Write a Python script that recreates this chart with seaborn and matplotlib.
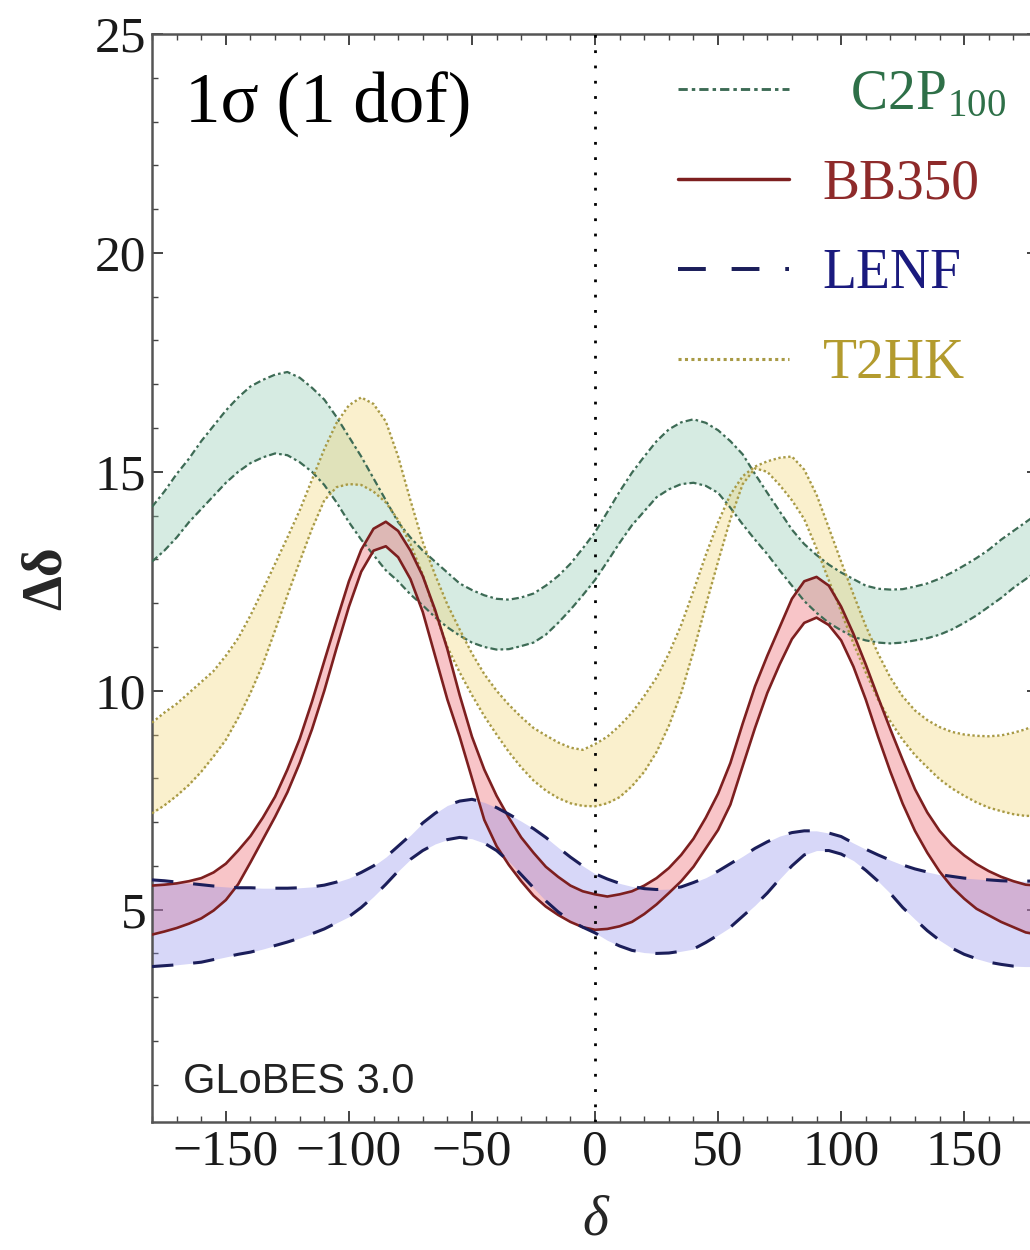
import numpy as np
import pandas as pd
import seaborn as sns
import matplotlib
matplotlib.use("Agg")
import matplotlib.pyplot as plt
from matplotlib.lines import Line2D
from matplotlib.ticker import MultipleLocator

# ---------------- data ----------------
delta = list(range(-180, 185, 5))

c2p_hi = [14.2, 14.55, 14.95, 15.3, 15.7, 16.05, 16.4, 16.7, 16.95, 17.1,
          17.22, 17.28, 17.15, 16.92, 16.65, 16.25, 15.8, 15.35, 14.85, 14.35,
          13.85, 13.5, 13.2, 12.95, 12.7, 12.45, 12.3, 12.18, 12.1, 12.08,
          12.13, 12.22, 12.4, 12.62, 12.9, 13.25, 13.62, 14.08, 14.55, 14.98,
          15.35, 15.7, 15.97, 16.13, 16.2, 16.12, 15.95, 15.7, 15.4, 14.95,
          14.52, 14.1, 13.68, 13.35, 13.1, 12.88, 12.7, 12.55, 12.4, 12.33,
          12.31, 12.32, 12.38, 12.45, 12.56, 12.7, 12.86, 13.03, 13.22, 13.45,
          13.65, 13.85, 14.05]
c2p_lo = [12.95, 13.2, 13.5, 13.85, 14.15, 14.45, 14.75, 15.0, 15.2, 15.33,
          15.42, 15.38, 15.22, 15.0, 14.7, 14.3, 13.85, 13.45, 13.1, 12.75,
          12.5, 12.2, 11.95, 11.68, 11.45, 11.26, 11.1, 11.0, 10.94, 10.95,
          11.02, 11.1, 11.28, 11.55, 11.85, 12.18, 12.53, 12.95, 13.38, 13.78,
          14.1, 14.42, 14.6, 14.72, 14.75, 14.68, 14.52, 14.18, 13.8, 13.45,
          13.12, 12.75, 12.4, 12.05, 11.78, 11.55, 11.38, 11.23, 11.15, 11.1,
          11.08, 11.1, 11.15, 11.2, 11.28, 11.4, 11.55, 11.72, 11.92, 12.12,
          12.35, 12.55, 12.75]

bb_hi = [5.55, 5.57, 5.6, 5.65, 5.72, 5.85, 6.05, 6.35, 6.68, 7.1,
         7.58, 8.2, 8.9, 9.75, 10.68, 11.6, 12.5, 13.22, 13.7, 13.86,
         13.65, 13.2, 12.62, 11.85, 10.95, 9.9, 8.95, 8.2, 7.6, 7.1,
         6.65, 6.3, 5.98, 5.75, 5.55, 5.42, 5.35, 5.3, 5.35, 5.42,
         5.55, 5.72, 5.95, 6.25, 6.62, 7.1, 7.65, 8.35, 9.25, 10.1,
         10.8, 11.45, 12.1, 12.5, 12.6, 12.4, 11.92, 11.3, 10.6, 9.85,
         9.12, 8.42, 7.75, 7.22, 6.8, 6.48, 6.24, 6.04, 5.88, 5.75,
         5.65, 5.57, 5.55]
bb_lo = [4.43, 4.5, 4.58, 4.68, 4.8, 4.98, 5.22, 5.58, 6.08, 6.6,
         7.12, 7.68, 8.35, 9.12, 10.0, 10.98, 11.92, 12.72, 13.2, 13.3,
         13.05, 12.55, 11.8, 10.8, 9.8, 8.95, 8.0, 7.05, 6.45, 6.02,
         5.65, 5.32, 5.07, 4.88, 4.72, 4.6, 4.54, 4.56, 4.62, 4.72,
         4.9, 5.12, 5.38, 5.65, 5.98, 6.4, 6.82, 7.4, 8.28, 9.15,
         9.95, 10.6, 11.18, 11.55, 11.67, 11.5, 11.15, 10.55, 9.8, 8.95,
         8.15, 7.42, 6.8, 6.3, 5.87, 5.52, 5.25, 5.02, 4.87, 4.72,
         4.6, 4.48, 4.43]

lenf_hi = [5.68, 5.66, 5.63, 5.6, 5.57, 5.54, 5.52, 5.5, 5.5, 5.49,
           5.49, 5.49, 5.5, 5.52, 5.56, 5.63, 5.72, 5.85, 6.0, 6.2,
           6.45, 6.7, 6.98, 7.2, 7.38, 7.48, 7.52, 7.45, 7.33, 7.18,
           7.02, 6.85, 6.65, 6.42, 6.2, 6.0, 5.82, 5.7, 5.6, 5.53,
           5.48, 5.46, 5.47, 5.52, 5.62, 5.73, 5.88, 6.05, 6.22, 6.4,
           6.55, 6.68, 6.76, 6.8, 6.8, 6.75, 6.67, 6.52, 6.38, 6.25,
           6.13, 6.02, 5.93, 5.86, 5.8, 5.76, 5.72, 5.7, 5.68, 5.66,
           5.65, 5.65, 5.66]
lenf_lo = [3.7, 3.72, 3.74, 3.77, 3.8, 3.86, 3.92, 3.98, 4.03, 4.1,
           4.18, 4.26, 4.35, 4.45, 4.56, 4.7, 4.84, 5.05, 5.3, 5.58,
           5.88, 6.15, 6.35, 6.5, 6.6, 6.65, 6.62, 6.52, 6.35, 6.1,
           5.8, 5.5, 5.2, 4.95, 4.75, 4.6, 4.47, 4.3, 4.17, 4.07,
           4.02, 4.0, 4.01, 4.05, 4.1, 4.25, 4.42, 4.6, 4.85, 5.1,
           5.38, 5.7, 6.0, 6.25, 6.35, 6.35, 6.27, 6.12, 5.9, 5.65,
           5.37, 5.05, 4.78, 4.52, 4.3, 4.12, 3.98, 3.88, 3.8, 3.75,
           3.71, 3.7, 3.7]

t2hk_a = [9.27, 9.5, 9.7, 9.95, 10.2, 10.45, 10.8, 11.2, 11.72, 12.3,
          12.9, 13.5, 14.12, 14.82, 15.52, 16.12, 16.52, 16.7, 16.55, 16.15,
          15.35, 14.35, 13.4, 12.65, 11.97, 11.4, 10.85, 10.38, 10.0, 9.68,
          9.4, 9.15, 8.98, 8.82, 8.7, 8.65, 8.78, 8.95, 9.2, 9.5,
          9.88, 10.3, 10.85, 11.5, 12.28, 13.1, 13.85, 14.48, 14.9, 15.12,
          15.24, 15.32, 15.35, 15.05, 14.48, 13.72, 12.95, 12.2, 11.48, 10.85,
          10.3, 9.87, 9.55, 9.33, 9.17, 9.06, 9.0, 8.97, 8.96, 8.98,
          9.04, 9.12, 9.25]
t2hk_b = [7.2, 7.38, 7.6, 7.85, 8.15, 8.5, 8.88, 9.38, 9.95, 10.6,
          11.38, 12.18, 12.95, 13.7, 14.35, 14.65, 14.72, 14.7, 14.55, 14.3,
          13.9, 13.35, 12.65, 11.78, 11.0, 10.42, 9.9, 9.42, 9.0, 8.6,
          8.25, 7.95, 7.72, 7.55, 7.43, 7.37, 7.36, 7.43, 7.57, 7.82,
          8.15, 8.6, 9.2, 9.95, 10.9, 11.95, 12.95, 13.92, 14.72, 15.08,
          15.0, 14.7, 14.35, 13.92, 13.25, 12.52, 11.8, 11.08, 10.42, 9.8,
          9.3, 8.88, 8.53, 8.25, 7.98, 7.77, 7.6, 7.45, 7.33, 7.25,
          7.18, 7.14, 7.15]

labels = ["  C2P$_{\\mathregular{100}}$", "BB350", "LENF", "T2HK"]
y_ticks = [5, 10, 15, 20, 25]
x_ticks = [-150, -100, -50, 0, 50, 100, 150]

# ---------------- styling ----------------
styles = {
    "C2P":  dict(line="#3d6b55", fill="#8ac8ac", ls=(0, (3.2, 1.4, 1.2, 1.4)), lw=1.6, text="#2e7048"),
    "BB":   dict(line="#7d1f1f", fill="#eb5a62", ls="-", lw=1.9, text="#8e2a2a"),
    "LENF": dict(line="#1b1e5a", fill="#8d8deb", ls=(0, (7, 6.5)), lw=2.2, text="#1a1a7e"),
    "T2HK": dict(line="#a89a45", fill="#f3d470", ls=(0, (1.0, 1.1)), lw=1.7, text="#b39b2e"),
}

df = pd.DataFrame({
    "delta": delta,
    "c2p_hi": c2p_hi, "c2p_lo": c2p_lo,
    "bb_hi": bb_hi, "bb_lo": bb_lo,
    "lenf_hi": lenf_hi, "lenf_lo": lenf_lo,
    "t2hk_a": t2hk_a, "t2hk_b": t2hk_b,
})

sns.set_theme(style="ticks")
plt.rcParams["font.family"] = ["Liberation Serif", "DejaVu Serif"]
plt.rcParams["mathtext.fontset"] = "stix"

fig = plt.figure(figsize=(10.3, 12.5), dpi=100)
ax = fig.add_axes([0.1476, 0.1024, 0.8602, 0.8704])

pairs = [("C2P", "c2p_hi", "c2p_lo"), ("T2HK", "t2hk_a", "t2hk_b"),
         ("BB", "bb_hi", "bb_lo"), ("LENF", "lenf_hi", "lenf_lo")]
for key, hi, lo in pairs:
    st = styles[key]
    ax.fill_between(df["delta"], df[hi], df[lo], color=st["fill"], alpha=0.35, lw=0, zorder=1)
for key, hi, lo in pairs:
    st = styles[key]
    for col in (hi, lo):
        sns.lineplot(data=df, x="delta", y=col, ax=ax, color=st["line"],
                     linestyle=st["ls"], lw=st["lw"], zorder=3)

ax.axvline(0, color="black", ls=(0, (1.0, 4.5)), lw=2.0, zorder=4)

ax.set_xlim(-180, 180)
ax.set_ylim(0.15, 25)
ax.set_xticks(x_ticks)
ax.set_yticks(y_ticks)
ax.xaxis.set_minor_locator(MultipleLocator(10))
ax.yaxis.set_minor_locator(MultipleLocator(1))
ax.set_xticklabels([str(v).replace("-", "\u2212") for v in x_ticks])
ax.tick_params(which="both", direction="in", top=True, right=True, color="#444444")
ax.tick_params(which="major", length=8, width=1.4, labelsize=37, pad=5, labelcolor="#1a1a1a")
ax.tick_params(which="minor", length=4, width=1.0)
ax.tick_params(axis="y", pad=4)
for sp in ax.spines.values():
    sp.set_color("#555555")
    sp.set_linewidth(1.8)

ax.set_xlabel("\u03b4", fontsize=40, style="italic", labelpad=14)
ax.set_ylabel("\u0394\u03b4", fontsize=40, fontweight="bold", labelpad=16)

ax.text(0.037, 0.935, "1\u03c3 (1 dof)", transform=ax.transAxes, fontsize=51,
        ha="left", va="center", color="black")
ax.text(0.035, 0.037, "GLoBES 3.0", transform=ax.transAxes, fontsize=30,
        family=["Liberation Sans", "DejaVu Sans"], ha="left", va="center", color="#222222")

handles = [Line2D([], [], color=styles[k]["line"], ls=styles[k]["ls"], lw=styles[k]["lw"] * 1.3)
           for k in ["C2P", "BB", "LENF", "T2HK"]]
leg = ax.legend(handles, labels, loc="upper left", bbox_to_anchor=(0.594, 0.968),
                frameon=False, fontsize=40, handlelength=2.0, handletextpad=0.6,
                labelspacing=0.68, borderpad=0, borderaxespad=0,
                labelcolor=[styles[k]["text"] for k in ["C2P", "BB", "LENF", "T2HK"]])

fig.savefig("out.png", dpi=100)
